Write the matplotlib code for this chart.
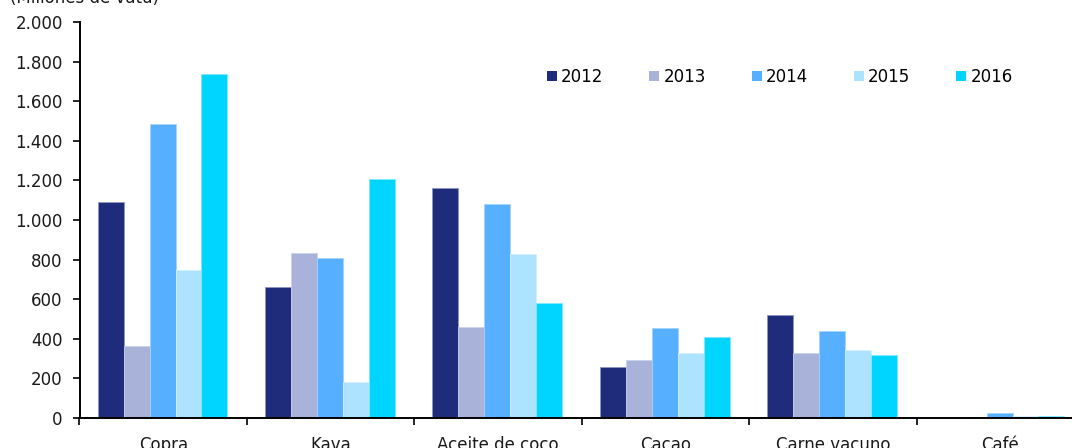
import matplotlib
matplotlib.use("Agg")
import matplotlib.pyplot as plt
import numpy as np
from matplotlib.patches import Patch

categories = ["Copra", "Kava", "Aceite de coco", "Cacao", "Carne vacuno", "Café"]
years = ["2012", "2013", "2014", "2015", "2016"]
v2012 = [1089, 660, 1163, 258, 519, 2]
v2013 = [364, 833, 460, 293, 327, 2]
v2014 = [1485, 806, 1081, 455, 441, 25]
v2015 = [747, 182, 827, 330, 345, 8]
v2016 = [1737, 1205, 579, 409, 318, 9]
series = [v2012, v2013, v2014, v2015, v2016]
colors = ["#1f2b7b", "#a9b3d9", "#57b0ff", "#ade3ff", "#00d5ff"]
edges = ["#8e96c4", "#c9d0ea", "#a5d3ff", "#d4f1ff", "#7fe9ff"]
yticks = list(range(0, 2001, 200))

plt.rcParams['font.family'] = ['DejaVu Sans']
fs = 12
W, H = 1072, 448
fig = plt.figure(figsize=(W / 100, H / 100), dpi=100)
left_px, right_px = 79.5, 79.5 + 6 * 167.4
top_px, bottom_px = 22, 418
ax = fig.add_axes([left_px / W, 1 - bottom_px / H, (right_px - left_px) / W, (bottom_px - top_px) / H])

x = np.arange(len(categories))
bw = 0.155
for i, (vals, c, e) in enumerate(zip(series, colors, edges)):
    ax.bar(x + (i - 2) * bw - 0.004, vals, width=bw, color=c, edgecolor=e, linewidth=0.6, zorder=2)

ax.set_xlim(-0.5, len(categories) - 0.5)
ax.set_ylim(0, 2000)
ax.set_yticks(yticks)
ax.set_yticklabels([f"{v:,}".replace(",", ".") for v in yticks], fontsize=fs, color="#1a1a1a")
ax.set_xticks(np.arange(len(categories) + 1) - 0.5)
ax.set_xticklabels([])
ax.set_xticks(x, minor=True)
ax.set_xticklabels(categories, minor=True, fontsize=fs, color="#1a1a1a")
ax.tick_params(axis='x', which='minor', length=0, pad=13)
ax.tick_params(axis='x', which='major', length=5, width=1.2, direction='out')
ax.tick_params(axis='y', length=5, width=1.2, direction='out', pad=7)
for s in ["top", "right"]:
    ax.spines[s].set_visible(False)
for s in ["left", "bottom"]:
    ax.spines[s].set_linewidth(1.4)
    ax.spines[s].set_color("black")

handles = [Patch(facecolor=c, edgecolor='none') for c in colors]
fig.legend(handles, years, loc='center left', bbox_to_anchor=(547 / W, 1 - 77 / H), ncol=5,
           frameon=False, fontsize=fs, handlelength=0.6, handleheight=0.6, handletextpad=0.25,
           columnspacing=2.75, borderaxespad=0, borderpad=0)

fig.text(10 / W, 1 - 3 / H, "(Millones de vatu)", fontsize=fs, va='baseline', ha='left', color="#1a1a1a")

fig.savefig("out.png", dpi=100)
